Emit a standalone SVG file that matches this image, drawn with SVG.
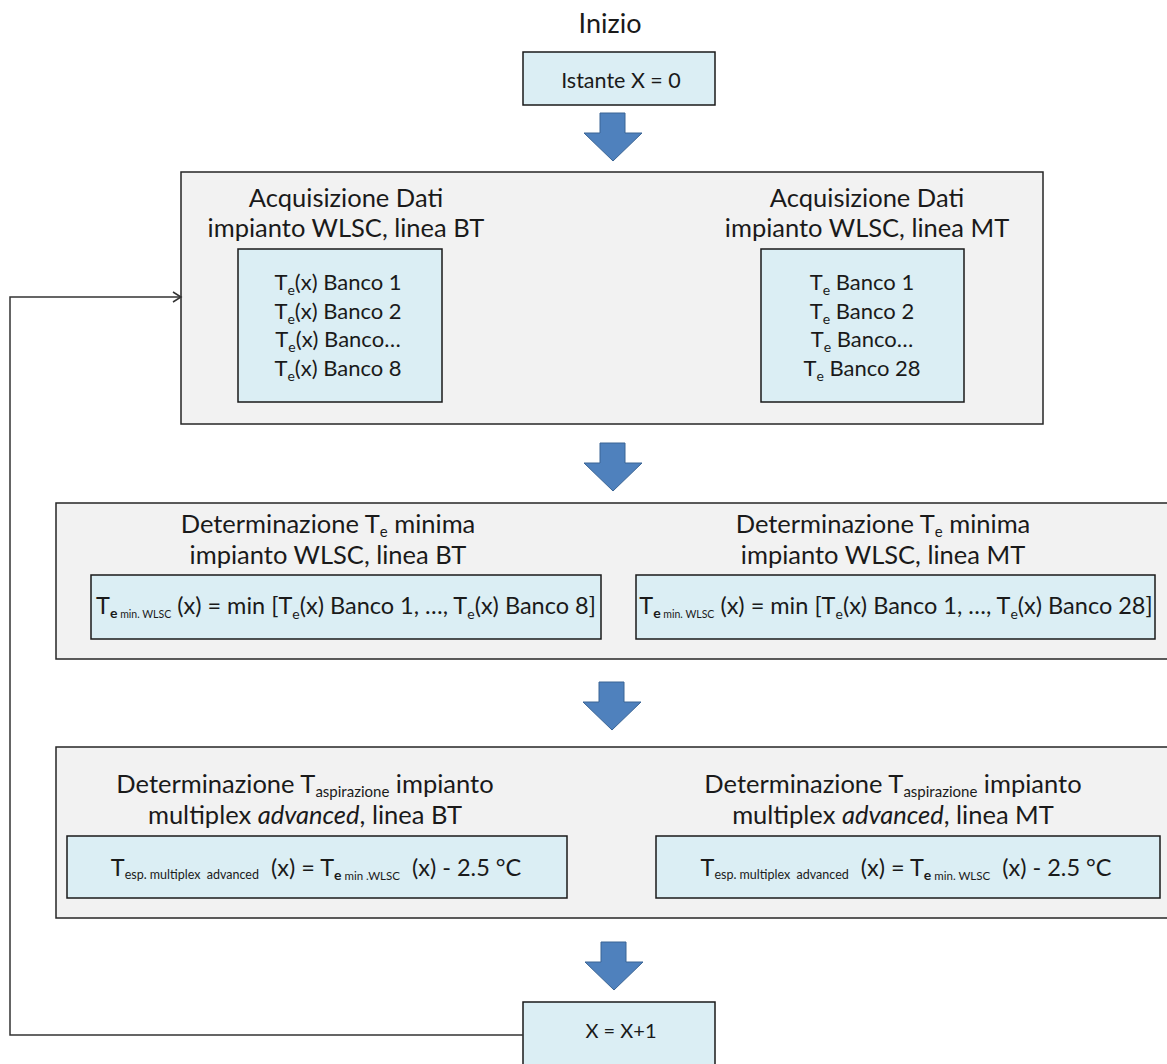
<svg xmlns="http://www.w3.org/2000/svg" width="1167" height="1064" viewBox="0 0 1167 1064">
  <defs>
    <style>
      .panel { fill: #f2f2f2; stroke: #262626; stroke-width: 1.5; }
      .cell { fill: #dbeef4; stroke: #1a1a1a; stroke-width: 1.5; }
      .flow { fill: #4f81bd; stroke: #3b6595; stroke-width: 1; }
      .loop { fill: none; stroke: #333; stroke-width: 1.5; }
      text { font-family: Lato, "Liberation Sans", sans-serif; fill: #1a1a1a; text-anchor: middle; }
      .h { font-size: 25.5px; }
      .b { font-size: 22px; }
      .f { font-size: 23.5px; }
      .s { font-size: 14px; }
      .hs { font-size: 15px; }
      .xs { font-size: 10.5px; }
      .xxs { font-size: 12.5px; }
      .xs2 { font-size: 11.5px; }
    </style>
    <marker id="open" markerWidth="12" markerHeight="12" refX="10" refY="6" orient="auto" markerUnits="userSpaceOnUse">
      <path d="M2,1 L10,6 L2,11" fill="none" stroke="#333" stroke-width="1.5"/>
    </marker>
    <path id="blk" d="M-13,0 H12 V20 H29 L0,48 L-29,20 H-13 Z"/>
  </defs>

  <!-- start label -->
  <text id="start" x="610" y="33" font-size="27">Inizio</text>

  <g id="init">
    <rect class="cell" x="523" y="52" width="192" height="53"/>
    <text x="621" y="88" font-size="21.5">Istante X = 0</text>
  </g>

  <!-- acquisition panel -->
  <g id="acquisizione">
    <rect class="panel" x="181" y="172" width="862" height="252"/>
    <text class="h" x="346" y="207">Acquisizione Dati</text>
    <text class="h" x="346" y="237">impianto WLSC, linea BT</text>
    <text class="h" x="867" y="207">Acquisizione Dati</text>
    <text class="h" x="867" y="237">impianto WLSC, linea MT</text>
  </g>
  <g id="dati-bt">
    <rect class="cell" x="238" y="249" width="204" height="153"/>
    <text class="b" x="338" y="290">T<tspan class="s" dy="5">e</tspan><tspan dy="-5">(x) Banco 1</tspan></text>
    <text class="b" x="338" y="319">T<tspan class="s" dy="5">e</tspan><tspan dy="-5">(x) Banco 2</tspan></text>
    <text class="b" x="338" y="347">T<tspan class="s" dy="5">e</tspan><tspan dy="-5">(x) Banco…</tspan></text>
    <text class="b" x="338" y="376">T<tspan class="s" dy="5">e</tspan><tspan dy="-5">(x) Banco 8</tspan></text>
  </g>
  <g id="dati-mt">
    <rect class="cell" x="761" y="249" width="203" height="153"/>
    <text class="b" x="862" y="290">T<tspan class="s" dy="5">e</tspan><tspan dy="-5"> Banco 1</tspan></text>
    <text class="b" x="862" y="319">T<tspan class="s" dy="5">e</tspan><tspan dy="-5"> Banco 2</tspan></text>
    <text class="b" x="862" y="347">T<tspan class="s" dy="5">e</tspan><tspan dy="-5"> Banco…</tspan></text>
    <text class="b" x="862" y="376">T<tspan class="s" dy="5">e</tspan><tspan dy="-5"> Banco 28</tspan></text>
  </g>

  <!-- minimum temperature panel -->
  <g id="minima">
    <rect class="panel" x="56" y="503" width="1120" height="156"/>
    <text class="h" x="328" y="533">Determinazione T<tspan class="hs" dy="4">e</tspan><tspan dy="-4"> minima</tspan></text>
    <text class="h" x="328" y="564">impianto WLSC, linea BT</text>
    <text class="h" x="883" y="533">Determinazione T<tspan class="hs" dy="4">e</tspan><tspan dy="-4"> minima</tspan></text>
    <text class="h" x="883" y="564">impianto WLSC, linea MT</text>
  </g>
  <g id="min-bt">
    <rect class="cell" x="91" y="575" width="510" height="64"/>
    <text class="f" x="346" y="614">T<tspan class="s" dy="4" font-weight="bold">e</tspan><tspan class="xs"> min. WLSC</tspan><tspan dy="-4"> (x) = min [T</tspan><tspan class="s" dy="5">e</tspan><tspan dy="-5">(x) Banco 1, …, T</tspan><tspan class="s" dy="5">e</tspan><tspan dy="-5">(x) Banco 8]</tspan></text>
  </g>
  <g id="min-mt">
    <rect class="cell" x="636" y="575" width="519" height="64"/>
    <text class="f" x="896" y="614">T<tspan class="s" dy="4" font-weight="bold">e</tspan><tspan class="xs"> min. WLSC</tspan><tspan dy="-4"> (x) = min [T</tspan><tspan class="s" dy="5">e</tspan><tspan dy="-5">(x) Banco 1, …, T</tspan><tspan class="s" dy="5">e</tspan><tspan dy="-5">(x) Banco 28]</tspan></text>
  </g>

  <!-- suction temperature panel -->
  <g id="aspirazione">
    <rect class="panel" x="56" y="747" width="1120" height="171"/>
    <text class="h" x="305" y="793">Determinazione T<tspan class="hs" dy="4">aspirazione</tspan><tspan dy="-4"> impianto</tspan></text>
    <text class="h" x="305" y="824">multiplex <tspan font-style="italic">advanced</tspan>, linea BT</text>
    <text class="h" x="893" y="793">Determinazione T<tspan class="hs" dy="4">aspirazione</tspan><tspan dy="-4"> impianto</tspan></text>
    <text class="h" x="893" y="824">multiplex <tspan font-style="italic">advanced</tspan>, linea MT</text>
  </g>
  <g id="asp-bt">
    <rect class="cell" x="67" y="836" width="500" height="62"/>
    <text class="f" x="316" y="876" xml:space="preserve">T<tspan class="xxs" dy="3">esp. multiplex  advanced</tspan><tspan dy="-3">  (x) = T</tspan><tspan class="s" dy="4" font-weight="bold">e</tspan><tspan class="xs2"> min .WLSC</tspan><tspan dy="-4">  (x) - 2.5 °C</tspan></text>
  </g>
  <g id="asp-mt">
    <rect class="cell" x="656" y="836" width="504" height="62"/>
    <text class="f" x="906" y="876" xml:space="preserve">T<tspan class="xxs" dy="3">esp. multiplex  advanced</tspan><tspan dy="-3">  (x) = T</tspan><tspan class="s" dy="4" font-weight="bold">e</tspan><tspan class="xs2"> min. WLSC</tspan><tspan dy="-4">  (x) - 2.5 °C</tspan></text>
  </g>

  <g id="incremento">
    <rect class="cell" x="523" y="1002" width="192" height="70"/>
    <text x="621" y="1038" font-size="20">X = X+1</text>
  </g>

  <!-- connectors -->
  <g id="connectors">
    <use href="#blk" class="flow" x="613" y="113"/>
    <use href="#blk" class="flow" x="613" y="443"/>
    <use href="#blk" class="flow" x="612" y="682"/>
    <use href="#blk" class="flow" x="614" y="942"/>
    <path class="loop" d="M523,1035 H10 V297 H181" marker-end="url(#open)"/>
  </g>
</svg>
